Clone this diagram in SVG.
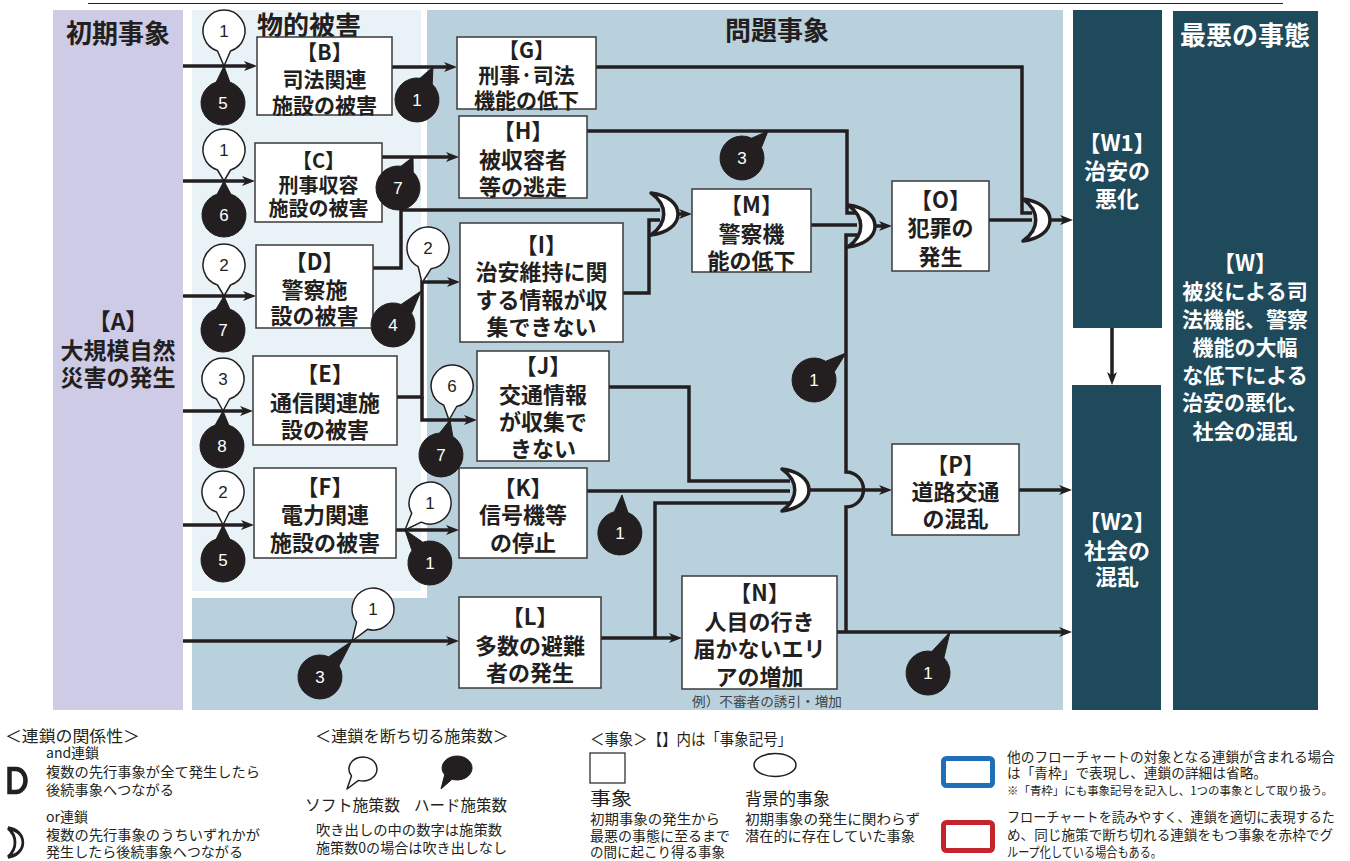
<svg xmlns="http://www.w3.org/2000/svg" width="1350" height="861" viewBox="0 0 1350 861">
<defs>
<style>
.nt{font-family:"Noto Sans CJK JP","Noto Sans CJK SC",sans-serif;font-weight:700;fill:#231F20;text-anchor:middle}
.wt{font-family:"Noto Sans CJK JP","Noto Sans CJK SC",sans-serif;font-weight:700;fill:#ffffff;text-anchor:middle}
.title{font-size:26px}
.box{fill:#ffffff;stroke:#3a3a3a;stroke-width:1.5}
.conn{fill:none;stroke:#231F20;stroke-width:3.5;stroke-linejoin:miter}
.arr{marker-end:url(#ah)}
.gate{fill:#ffffff;stroke:#231F20;stroke-width:3.5;stroke-linejoin:round}
.bw{fill:#ffffff;stroke:#231F20;stroke-width:1.5;stroke-linejoin:round}
.bb{fill:#231F20;stroke:#231F20;stroke-width:1;stroke-linejoin:round}
.bn{font-family:"Liberation Sans",Arial,sans-serif;font-size:17px;text-anchor:middle;fill:#231F20}
.bnw{font-family:"Liberation Sans",Arial,sans-serif;font-size:17px;text-anchor:middle;fill:#ffffff}
.lg{font-family:"Noto Sans CJK JP","Noto Sans CJK SC",sans-serif;fill:#231F20}
.lgh{font-family:"Noto Sans CJK JP","Noto Sans CJK SC",sans-serif;font-size:16px;fill:#231F20}
</style>
<marker id="ah" markerUnits="userSpaceOnUse" markerWidth="13" markerHeight="10" refX="5" refY="5" orient="auto"><path d="M0,0 L13,5 L0,10 L3.5,5 Z" fill="#231F20"/></marker>
<path id="orShape" d="M0,0 C16,2 27,10 27,21 C27,32 16,40 0,42 C17,30 17,12 0,0 Z"/>
</defs>

<line x1="88" y1="3.5" x2="1283" y2="3.5" stroke="#231F20" stroke-width="1.2"/>

<g id="panels">
<rect x="53" y="10" width="130" height="700" fill="#CECBE6"/>
<rect x="192" y="10" width="871" height="700" fill="#B9D1DD"/>
<rect x="192" y="10" width="235" height="588" fill="#ffffff"/>
<rect x="192" y="10" width="229" height="581" fill="#E9F2F6"/>
<rect x="1073" y="10" width="89" height="318" fill="#1E4A5C"/>
<rect x="1072" y="385" width="89" height="325" fill="#1E4A5C"/>
<rect x="1173" y="11" width="145" height="699" fill="#1E4A5C"/>
</g>

<g id="titles">
<text class="nt title" x="118" y="43">初期事象</text>
<text class="nt title" x="309" y="35">物的被害</text>
<text class="nt title" x="777" y="40">問題事象</text>
<text class="wt title" x="1245" y="45">最悪の事態</text>
</g>

<g id="connectors">
<path class="conn arr" d="M183,66 H249"/>
<path class="conn arr" d="M183,181 H247"/>
<path class="conn arr" d="M183,296 H248"/>
<path class="conn arr" d="M183,411 H245"/>
<path class="conn arr" d="M183,525 H246"/>
<path class="conn arr" d="M183,641 H451"/>
<path class="conn arr" d="M392,67 H449"/>
<path class="conn arr" d="M382,157 H451"/>
<path class="conn" d="M373,268 H401 V210 H660"/>
<path class="conn arr" d="M397,397 H422 V282 H452"/>
<path class="conn arr" d="M422,397 V420 H469"/>
<path class="conn" d="M623,293 H649 V220 H660"/>
<path class="conn arr" d="M676,214 H684"/>
<path class="conn" d="M596,67 H1022 V213 H1032"/>
<path class="conn" d="M587,131 H847 V213 H857"/>
<path class="conn" d="M811,225 H857"/>
<path class="conn" d="M846,632 V507 A17.5,17.5 0 0 0 846,472 V235 H857"/>
<path class="conn arr" d="M873,226 H884"/>
<path class="conn" d="M989,220 H1032"/>
<path class="conn arr" d="M1048,220 H1065"/>
<path class="conn" d="M609,387 H689 V481 H790"/>
<path class="conn" d="M587,491 H790"/>
<path class="conn arr" d="M601,638 H674"/>
<path class="conn" d="M655,638 V503 H790"/>
<path class="conn arr" d="M806,490 H884"/>
<path class="conn arr" d="M1019,490 H1064"/>
<path class="conn arr" d="M837,632 H1064"/>
<path class="conn arr" d="M396,530 H451"/>
<path class="conn arr" d="M1112,328 V377"/>
</g>

<g id="gates">
<use href="#orShape" class="gate" transform="translate(651,193)"/>
<use href="#orShape" class="gate" transform="translate(848,205)"/>
<use href="#orShape" class="gate" transform="translate(1023,199)"/>
<use href="#orShape" class="gate" transform="translate(782,469)"/>
</g>

<g id="nodeA">
<text class="nt" font-size="23" x="118" y="330">【A】</text>
<text class="nt" font-size="23" x="118" y="359">大規模自然</text>
<text class="nt" font-size="23" x="118" y="386">災害の発生</text>
</g>
<g id="nodeB">
<rect class="box" x="257" y="37" width="135" height="78"/>
<text class="nt" font-size="21" x="324.5" y="60">【B】</text>
<text class="nt" font-size="21" x="324.5" y="87">司法関連</text>
<text class="nt" font-size="21" x="324.5" y="113">施設の被害</text>
</g>
<g id="nodeC">
<rect class="box" x="255" y="143" width="127" height="79"/>
<text class="nt" font-size="20" x="318.5" y="168">【C】</text>
<text class="nt" font-size="20" x="318.5" y="193">刑事収容</text>
<text class="nt" font-size="20" x="318.5" y="216">施設の被害</text>
</g>
<g id="nodeD">
<rect class="box" x="256" y="245" width="117" height="83"/>
<text class="nt" font-size="22" x="314.5" y="270">【D】</text>
<text class="nt" font-size="22" x="314.5" y="298">警察施</text>
<text class="nt" font-size="22" x="314.5" y="324">設の被害</text>
</g>
<g id="nodeE">
<rect class="box" x="253" y="356" width="144" height="89"/>
<text class="nt" font-size="22" x="325" y="382">【E】</text>
<text class="nt" font-size="22" x="325" y="411">通信関連施</text>
<text class="nt" font-size="22" x="325" y="438">設の被害</text>
</g>
<g id="nodeF">
<rect class="box" x="254" y="468" width="142" height="90"/>
<text class="nt" font-size="22" x="325" y="495">【F】</text>
<text class="nt" font-size="22" x="325" y="523">電力関連</text>
<text class="nt" font-size="22" x="325" y="551">施設の被害</text>
</g>
<g id="nodeG">
<rect class="box" x="457" y="37" width="139" height="72"/>
<text class="nt" font-size="21" x="526.5" y="58">【G】</text>
<text class="nt" font-size="21" x="526.5" y="83">刑事·司法</text>
<text class="nt" font-size="21" x="526.5" y="108">機能の低下</text>
</g>
<g id="nodeH">
<rect class="box" x="459" y="116" width="128" height="82"/>
<text class="nt" font-size="22" x="523" y="139">【H】</text>
<text class="nt" font-size="22" x="523" y="168">被収容者</text>
<text class="nt" font-size="22" x="523" y="195">等の逃走</text>
</g>
<g id="nodeI">
<rect class="box" x="460" y="223" width="163" height="119"/>
<text class="nt" font-size="22" x="541.5" y="253">【I】</text>
<text class="nt" font-size="22" x="541.5" y="280">治安維持に関</text>
<text class="nt" font-size="22" x="541.5" y="308">する情報が収</text>
<text class="nt" font-size="22" x="541.5" y="335">集できない</text>
</g>
<g id="nodeJ">
<rect class="box" x="477" y="351" width="132" height="110"/>
<text class="nt" font-size="22" x="543" y="374">【J】</text>
<text class="nt" font-size="22" x="543" y="403">交通情報</text>
<text class="nt" font-size="22" x="543" y="430">が収集で</text>
<text class="nt" font-size="22" x="543" y="457">きない</text>
</g>
<g id="nodeK">
<rect class="box" x="459" y="468" width="128" height="90"/>
<text class="nt" font-size="22" x="523" y="496">【K】</text>
<text class="nt" font-size="22" x="523" y="523">信号機等</text>
<text class="nt" font-size="22" x="523" y="551">の停止</text>
</g>
<g id="nodeL">
<rect class="box" x="459" y="597" width="142" height="91"/>
<text class="nt" font-size="22" x="530" y="625">【L】</text>
<text class="nt" font-size="22" x="530" y="654">多数の避難</text>
<text class="nt" font-size="22" x="530" y="681">者の発生</text>
</g>
<g id="nodeM">
<rect class="box" x="692" y="189" width="119" height="83"/>
<text class="nt" font-size="22" x="751.5" y="213">【M】</text>
<text class="nt" font-size="22" x="751.5" y="242">警察機</text>
<text class="nt" font-size="22" x="751.5" y="269">能の低下</text>
</g>
<g id="nodeN">
<rect class="box" x="682" y="576" width="155" height="113"/>
<text class="nt" font-size="22" x="759.5" y="601">【N】</text>
<text class="nt" font-size="22" x="759.5" y="630">人目の行き</text>
<text class="nt" font-size="22" x="759.5" y="657">届かないエリ</text>
<text class="nt" font-size="22" x="759.5" y="685">アの増加</text>
<text x="767" y="706" font-family="Noto Sans CJK JP,sans-serif" font-size="13" fill="#444444" text-anchor="middle" textLength="150" lengthAdjust="spacingAndGlyphs">例）不審者の誘引・増加</text>
</g>
<g id="nodeO">
<rect class="box" x="892" y="181" width="97" height="90"/>
<text class="nt" font-size="22" x="940.5" y="208">【O】</text>
<text class="nt" font-size="22" x="940.5" y="236">犯罪の</text>
<text class="nt" font-size="22" x="940.5" y="265">発生</text>
</g>
<g id="nodeP">
<rect class="box" x="892" y="444" width="127" height="91"/>
<text class="nt" font-size="22" x="955.5" y="473">【P】</text>
<text class="nt" font-size="22" x="955.5" y="500">道路交通</text>
<text class="nt" font-size="22" x="955.5" y="527">の混乱</text>
</g>
<g id="nodeW1">
<text class="wt" font-size="22" x="1117" y="151">【W1】</text>
<text class="wt" font-size="22" x="1117" y="179">治安の</text>
<text class="wt" font-size="22" x="1117" y="207">悪化</text>
</g>
<g id="nodeW2">
<text class="wt" font-size="22" x="1117" y="530">【W2】</text>
<text class="wt" font-size="22" x="1117" y="559">社会の</text>
<text class="wt" font-size="22" x="1117" y="585">混乱</text>
</g>
<g id="nodeW">
<text class="wt" font-size="22" x="1245" y="271">【W】</text>
<text class="wt" font-size="21" x="1245" y="299">被災による司</text>
<text class="wt" font-size="21" x="1245" y="327">法機能、警察</text>
<text class="wt" font-size="21" x="1245" y="355">機能の大幅</text>
<text class="wt" font-size="21" x="1245" y="383">な低下による</text>
<text class="wt" font-size="21" x="1245" y="410">治安の悪化、</text>
<text class="wt" font-size="21" x="1245" y="439">社会の混乱</text>
</g>

<g id="bubbles">
<path class="bw" d="M217.5,51 A21,21 0 1 1 230.5,51 L224,66 Z"/><text class="bn" x="224" y="37">1</text>
<path class="bb" d="M229.8,82.1 A22,22 0 1 1 216.2,82.1 L224,66 Z"/><text class="bnw" x="223" y="109">5</text>
<path class="bw" d="M217.5,170 A21,21 0 1 1 230.5,170 L224,181 Z"/><text class="bn" x="224" y="156">1</text>
<path class="bb" d="M230.8,194.1 A22,22 0 1 1 217.2,194.1 L224,181 Z"/><text class="bnw" x="224" y="221">6</text>
<path class="bw" d="M217.5,285 A21,21 0 1 1 230.5,285 L224,296 Z"/><text class="bn" x="224" y="271">2</text>
<path class="bb" d="M229.8,309.1 A22,22 0 1 1 216.2,309.1 L224,296 Z"/><text class="bnw" x="223" y="336">7</text>
<path class="bw" d="M216.5,399 A21,21 0 1 1 229.5,399 L223,411 Z"/><text class="bn" x="223" y="385">3</text>
<path class="bb" d="M228.8,425.1 A22,22 0 1 1 215.2,425.1 L223,411 Z"/><text class="bnw" x="222" y="452">8</text>
<path class="bw" d="M216.5,512 A21,21 0 1 1 229.5,512 L223,525 Z"/><text class="bn" x="223" y="498">2</text>
<path class="bb" d="M229.8,539.1 A22,22 0 1 1 216.2,539.1 L223,525 Z"/><text class="bnw" x="223" y="566">5</text>
<path class="bb" d="M432.2,84.1 A22,22 0 1 1 420,78.2 L433,67 Z"/><text class="bnw" x="417" y="106">1</text>
<path class="bb" d="M413.2,172.1 A22,22 0 1 1 401,166.2 L413,157 Z"/><text class="bnw" x="398" y="194">7</text>
<path class="bw" d="M418.2,266.6 A21,21 0 1 1 431,268.8 L422,283 Z"/><text class="bn" x="428" y="254">2</text>
<path class="bb" d="M411.6,313.2 A22,22 0 1 1 401.1,304.5 L421,291 Z"/><text class="bnw" x="393" y="331">4</text>
<path class="bw" d="M443.8,405.3 A21,21 0 1 1 456.7,406.5 L449,420 Z"/><text class="bn" x="452" y="392">6</text>
<path class="bb" d="M452.8,436.4 A22,22 0 1 1 439.6,433 L450,420 Z"/><text class="bnw" x="441" y="461">7</text>
<path class="bb" d="M761.4,147.6 A22,22 0 1 1 751.6,138.2 L768,131 Z"/><text class="bnw" x="742" y="164">3</text>
<path class="bb" d="M834.4,371.7 A22,22 0 1 1 825.6,361.3 L846,353 Z"/><text class="bnw" x="814" y="386">1</text>
<path class="bb" d="M627.9,512.5 A22,22 0 1 1 614.3,511.7 L622,495 Z"/><text class="bnw" x="620" y="539">1</text>
<path class="bw" d="M411.7,513.2 A21,21 0 1 1 421.2,522.1 L405,530 Z"/><text class="bn" x="430" y="509">1</text>
<path class="bb" d="M422.8,542.2 A22,22 0 1 1 411.9,550.4 L405,530 Z"/><text class="bnw" x="430" y="569">1</text>
<path class="bw" d="M356.6,622.1 A21,21 0 1 1 367.5,629.3 L352,641 Z"/><text class="bn" x="373" y="615">1</text>
<path class="bb" d="M339,665.9 A22,22 0 1 1 328.8,656.8 L352,641 Z"/><text class="bnw" x="320" y="683">3</text>
<path class="bb" d="M943.9,657.8 A22,22 0 1 1 931.9,651.4 L950,632 Z"/><text class="bnw" x="928" y="679">1</text>
</g>

<g id="legend">
<text class="lgh" x="5" y="742" textLength="135" lengthAdjust="spacingAndGlyphs">＜連鎖の関係性＞</text>
<text class="lg" style="font-size:14px" x="46" y="758">and連鎖</text>
<path d="M9.5,769 H16 A9.5,11.5 0 0 1 16,792 H9.5 Z" fill="#ffffff" stroke="#231F20" stroke-width="4.5"/>
<text class="lg" style="font-size:14px" x="46" y="777" textLength="214" lengthAdjust="spacingAndGlyphs">複数の先行事象が全て発生したら</text>
<text class="lg" style="font-size:14px" x="46" y="795" textLength="128" lengthAdjust="spacingAndGlyphs">後続事象へつながる</text>
<text class="lg" style="font-size:14px" x="46" y="822">or連鎖</text>
<use href="#orShape" transform="translate(8,828) scale(0.55,0.69)" fill="#ffffff" stroke="#231F20" stroke-width="5"/>
<text class="lg" style="font-size:14px" x="46" y="840" textLength="214" lengthAdjust="spacingAndGlyphs">複数の先行事象のうちいずれかが</text>
<text class="lg" style="font-size:14px" x="46" y="857" textLength="197" lengthAdjust="spacingAndGlyphs">発生したら後続事象へつながる</text>

<text class="lgh" x="315" y="742" textLength="194" lengthAdjust="spacingAndGlyphs">＜連鎖を断ち切る施策数＞</text>
<path class="bw" d="M351.5,775.9 A14,12 0 1 1 358.5,780.4 L347,789 Z"/>
<path class="bb" d="M444.7,774.8 A15,12 0 1 1 452,779.3 L441,789 Z"/>
<text class="lgh" x="305" y="811" textLength="95" lengthAdjust="spacingAndGlyphs">ソフト施策数</text>
<text class="lgh" x="414" y="811" textLength="93" lengthAdjust="spacingAndGlyphs">ハード施策数</text>
<text class="lg" style="font-size:14px" x="316" y="835" textLength="186" lengthAdjust="spacingAndGlyphs">吹き出しの中の数字は施策数</text>
<text class="lg" style="font-size:14px" x="316" y="853" textLength="191" lengthAdjust="spacingAndGlyphs">施策数0の場合は吹き出しなし</text>

<text class="lgh" x="590" y="745" textLength="202" lengthAdjust="spacingAndGlyphs">＜事象＞【】内は「事象記号」</text>
<rect x="590" y="753" width="35" height="30" fill="#ffffff" stroke="#231F20" stroke-width="1.2"/>
<ellipse cx="775" cy="765" rx="21" ry="11.5" fill="#ffffff" stroke="#231F20" stroke-width="1.5"/>
<text class="lg" style="font-size:18px" x="590" y="805" textLength="42" lengthAdjust="spacingAndGlyphs">事象</text>
<text class="lg" style="font-size:14px" x="590" y="824" textLength="130" lengthAdjust="spacingAndGlyphs">初期事象の発生から</text>
<text class="lg" style="font-size:14px" x="590" y="841" textLength="140" lengthAdjust="spacingAndGlyphs">最悪の事態に至るまで</text>
<text class="lg" style="font-size:14px" x="590" y="857" textLength="135" lengthAdjust="spacingAndGlyphs">の間に起こり得る事象</text>
<text class="lg" style="font-size:17px" x="745" y="805" textLength="85" lengthAdjust="spacingAndGlyphs">背景的事象</text>
<text class="lg" style="font-size:14px" x="745" y="824" textLength="175" lengthAdjust="spacingAndGlyphs">初期事象の発生に関わらず</text>
<text class="lg" style="font-size:14px" x="745" y="841" textLength="170" lengthAdjust="spacingAndGlyphs">潜在的に存在していた事象</text>

<rect x="943.5" y="758.5" width="49" height="27" rx="3" fill="#ffffff" stroke="#1F6EB6" stroke-width="5"/>
<rect x="943.5" y="822.5" width="49" height="28" rx="3" fill="#ffffff" stroke="#C4242B" stroke-width="5"/>
<text class="lg" style="font-size:13.6px" x="1007" y="762" textLength="328" lengthAdjust="spacingAndGlyphs">他のフローチャートの対象となる連鎖が含まれる場合</text>
<text class="lg" style="font-size:13.6px" x="1007" y="778" textLength="260" lengthAdjust="spacingAndGlyphs">は「青枠」で表現し、連鎖の詳細は省略。</text>
<text class="lg" style="font-size:11.4px" x="1007" y="795" textLength="326" lengthAdjust="spacingAndGlyphs">※「青枠」にも事象記号を記入し、1つの事象として取り扱う。</text>
<text class="lg" style="font-size:13.1px" x="1007" y="822" textLength="328" lengthAdjust="spacingAndGlyphs">フローチャートを読みやすく、連鎖を適切に表現するた</text>
<text class="lg" style="font-size:13.1px" x="1007" y="840" textLength="326" lengthAdjust="spacingAndGlyphs">め、同じ施策で断ち切れる連鎖をもつ事象を赤枠でグ</text>
<text class="lg" style="font-size:13.1px" x="1007" y="857" textLength="155" lengthAdjust="spacingAndGlyphs">ループ化している場合もある。</text>
</g>
</svg>
